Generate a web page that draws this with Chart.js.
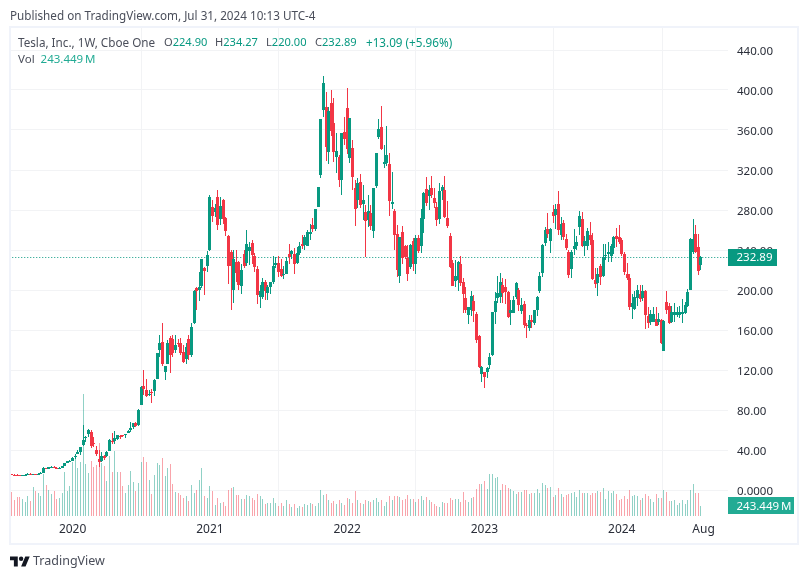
<!DOCTYPE html>
<html>
<head>
<meta charset="utf-8">
<title>TSLA 1W</title>
<script src="https://cdn.jsdelivr.net/npm/chart.js@4/dist/chart.umd.min.js"></script>
<style>
  html, body { margin: 0; padding: 0; background: #fff; }
  body { width: 808px; height: 579px; position: relative; overflow: hidden; font-family: "Noto Sans", sans-serif; color: #4a4e5a; }
  #chart { position: absolute; left: 0; top: 0; }
  #frame { position: absolute; left: 9px; top: 26px; width: 790px; height: 519px; box-sizing: border-box; border: 2px solid #f0f3fa; }
  .txt { position: absolute; white-space: pre; font-size: 11.1px; line-height: 16px; }
  .up { color: #089981; }
  .vol { color: #22ab94; }
  #logo { position: absolute; left: 10px; top: 554px; }
</style>
</head>
<body>
<canvas id="chart" width="808" height="579"></canvas>
<div id="frame"></div>
<div class="txt" style="left:10px;top:7px;font-size:11.7px">Published on TradingView.com, Jul 31, 2024 10:13 UTC-4</div>
<div class="txt" style="left:18px;top:34px;font-size:11.7px">Tesla, Inc., 1W, Cboe One</div>
<div class="txt" style="left:164px;top:34px">O<span class="up">224.90</span></div>
<div class="txt" style="left:215px;top:34px">H<span class="up">234.27</span></div>
<div class="txt" style="left:266px;top:34px">L<span class="up">220.00</span></div>
<div class="txt" style="left:315px;top:34px">C<span class="up">232.89</span></div>
<div class="txt up" style="left:366px;top:34px;font-size:11.7px">+13.09 (+5.96%)</div>
<div class="txt" style="left:18px;top:51px;font-size:11.5px">Vol  <span class="vol">243.449&#8239;M</span></div>
<svg id="logo" width="20" height="16" viewBox="0 0 36 28" fill="#131722"><path d="M14 22H7V11H0V4h14v18zM28 22h-8l7.5-18h8L28 22z"/><circle cx="20" cy="8" r="4"/></svg>
<div class="txt" style="left:33px;top:553px;font-size:12.5px">TradingView</div>

<script>
const opens = [
  16.1,15.4,15.3,14.9,14.4,15.0,15.4,16.4,16.1,16.2,
  15.6,16.6,17.0,21.9,21.2,23.3,23.5,22.4,22.3,22.5,
  24.3,27.5,28.9,29.5,32.9,36.0,37.9,44.9,52.2,56.0,
  57.6,47.4,40.5,31.3,29.3,33.6,33.6,39.3,48.8,49.0,
  51.0,53.6,55.3,55.0,57.2,60.0,62.6,66.7,64.6,85.0,
  104,100,95,98.5,99,111,140,148,118,126,
  152,151,140,147,147,138,131,151,135,167,
  202,200,204,222,224,240,283,278,293,271,
  290,272,254,238,200,228,228,204,236,227,
  239,247,234,221,193,193,208,197,203,208,
  225,227,221,215,216,236,236,236,227,237,
  246,245,244,256,265,261,283,315,380,383,
  338,387,367,333,333,310,358,382,332,342,
  302,290,308,286,278,270,277,259,304,353,
  363,326,327,326,286,279,256,214,258,244,
  232,223,249,226,252,244,271,301,294,302,
  292,283,271,299,300,272,254,227,209,210,
  226,208,192,175,180,189,176,154,116,118,
  118,125,135,178,192,193,205,203,198,177,
  177,193,200,179,186,165,162,170,167,180,
  199,217,247,261,249,278,275,286,255,267,
  251,238,221,241,244,263,271,244,244,255,
  250,210,207,224,214,234,236,234,242,254,
  253,250,236,216,212,183,181,192,196,192,
  199,174,168,168,171,168,170,139,188,184,
  168,175,175,175,176,177,184,200,238,256,243,224.9
];
const highs = [
  16.2,15.8,15.6,15.3,15.1,15.6,16.8,16.7,16.4,16.3,
  16.8,17.8,22.7,22.0,23.4,23.9,24.1,22.9,22.6,24.1,
  27.0,29.0,30.3,33.2,35.9,39.6,43.5,64.6,54.0,61.0,
  60.5,53,43.6,40,37.6,35.0,39.0,51.0,57,58.8,
  55.1,54.9,55.5,56.2,60,68.5,67.0,67.9,81,104,
  120,111,100,101,110.7,137,154.6,167,124.3,150,
  154,155,155,151,152,145,147,155,167,200,
  203,218,231,223,239,295,290,286,300,293,
  291,273,255,240,240,240,229,226,240,260,
  248,250,237,224,205,212,210,205,208,234,
  233,234,231,224,233,246,240,242,243,248,
  255,255,260,266,272,281,303,371,414,398,
  383,400,392,357,335,357,373,402,372,350,
  310,312,316,305,285,295,285,302,337,371,
  384,345,364,337,318,281,265,253,264,245,
  245,246,252,255,255,281,298,313,305,314,
  302,288,307,305,314,289,257,230,230,229,
  234,212,203,183,199,195,178,155,124,118,
  123,137,178,198,214,217,212,211,199,190,
  194,208,202,192,189,167,175,175,180,194,
  218,246,263,277,262,285,286,299,273,270,
  256,240,240,261,254,279,278,254,262,268,
  257,222,222,226,246,246,248,246,254,262,
  265,252,238,227,216,196,199,205,205,205,
  200,183,180,183,183,177,171,170,199,187,
  184,187,183,184,191,188,201,252,271,265,256,234.27
];
const lows = [
  15.1,14.8,14.5,14.1,14.1,14.9,15.2,15.8,14.9,15.1,
  15.4,16.4,16.9,20.6,20.9,22.8,22.0,21.9,21.8,22.0,
  23.9,27.2,27.6,29.3,31.5,35.9,35.2,44.5,48.0,53.0,
  42.0,42.9,33.9,23.4,28,29.8,33.2,39.0,46.4,45.5,
  50,51,53.5,51.6,57,58,61.5,63.1,64.4,85,
  95,93,94,87,94,110.6,133,124,110,126,
  117,133,137,143,135,127,126,130,133,166,
  180,189,202,195,218,239,268,273,260,265,
  266,254,206,180,187,208,200,196,222,224,
  225,226,218,186,182,191,190,190,196,206,
  222,213,213,211,216,226,231,216,226,235,
  241,240,244,250,258,259,283,312,373,329,
  326,354,328,317,303,295,345,336,327,300,
  264,282,282,270,233,263,260,252,302,351,
  340,322,324,274,281,240,213,207,226,231,
  209,221,219,216,237,237,257,284,280,292,
  282,264,266,290,272,262,222,204,203,199,
  204,177,177,166,174,168,147,122,108,102,
  112,121,134,166,187,187,187,186,172,165,
  177,191,179,176,162,152,159,162,165,174,
  197,213,244,252,237,267,261,255,250,250,
  240,212,212,235,240,255,243,234,240,245,
  210,202,194,205,213,230,228,228,236,243,
  246,234,215,210,180,171,180,184,188,189,
  161,162,165,168,164,165,146,139,176,166,
  167,168,173,172,167,176,183,200,236,237,215,220
];
const closes = [
  15.6,15.2,14.6,14.2,15.0,15.2,16.4,16.0,16.2,15.5,
  16.5,17.4,21.9,21.0,23.3,23.5,22.2,22.2,22.4,24.0,
  27.0,28.7,29.5,32.1,34.2,37.6,43.4,49.9,53.3,60.5,
  44.5,47.0,36.4,28.5,34.3,32.0,38.2,50.1,48.3,52.0,
  54.6,53.3,54.7,55.7,59,62,66.6,64,80,103,
  100.9,94,96,97.5,110,136.7,147,126,124,147,
  135,137,145,146,137,128,143,135,163,199,
  199,203,231,219,235,293,274,282,265,284,
  271,259,224,224,231,217,205,220,224,246,
  243,235,223,195,199,208,199,203,208,224,
  227,218,214,216,229,233,239,226,237,244,
  244,253,258,258,261,281,303,371,407,343,
  379,359,338,339,310,357,351,341,372,313,
  281,307,285,290,269,279,264,302,337,361,
  341,328,335,289,288,255,220,253,232,233,
  216,245,226,252,239,272,297,287,300,295,
  287,270,299,303,273,264,223,204,214,228,
  207,196,180,183,194,179,150,123,123,113,
  122,133,178,189,197,208,197,198,173,180,
  190,207,185,185,165,164,170,168,180,193,
  214,245,260,256,261,274,281,260,266,253,
  242,215,238,244,248,274,244,249,259,250,
  211,206,216,213,233,235,238,244,253,251,
  248,236,218,212,183,187,193,200,191,199,
  175,167,176,176,164,171,147,169,180,167,
  178,178,178,178,178,185,198,251,251,238,219,232.89
];
// weekly volume, millions of shares
const volumes = [
  591,389,454,454,413,340,486,365,705,616,
  559,494,1021,753,632,535,599,413,437,559,
  1061,608,729,1304,1466,1175,1304,2957,1272,1053,
  1328,1199,1239,1766,1280,1215,851,1458,1077,1580,
  1069,1069,729,567,753,1102,834,608,810,1312,
  1434,1320,867,535,996,1288,1239,1409,972,1175,
  1272,786,583,559,510,429,478,365,753,559,
  640,875,1158,494,437,729,616,275,437,324,
  340,243,632,680,705,510,518,405,405,502,
  478,429,397,535,478,405,292,316,316,429,
  316,235,316,235,381,292,211,292,203,235,
  219,284,267,316,284,235,316,624,502,535,
  381,316,356,292,381,316,267,437,405,316,
  599,381,316,284,381,356,332,381,429,332,
  381,235,332,478,381,478,478,454,381,405,
  502,405,405,332,405,478,381,454,381,332,
  284,235,211,332,308,308,429,381,405,405,
  332,575,381,332,429,454,648,770,770,842,
  648,1012,1012,915,940,624,770,745,672,648,
  599,543,575,583,624,624,543,551,559,648,
  551,794,761,672,697,454,510,672,527,454,
  518,535,551,575,454,624,551,551,551,502,
  551,551,599,583,672,405,616,551,599,527,
  381,405,478,405,624,478,502,478,381,446,
  527,478,405,332,527,429,446,624,575,356,
  356,381,259,308,381,284,381,624,770,551,
  551,243.449
];
const xTickWeeks = [23, 75, 127, 179, 231, 262];
const xTickLabels = ['2020', '2021', '2022', '2023', '2024', 'Aug'];
const priceTicks = [0, 40, 80, 120, 160, 200, 240, 280, 320, 360, 400, 440];

const UP = '#089981';
const DOWN = '#f23645';
const FONT = '"Noto Sans", sans-serif';
const lastClose = closes[closes.length - 1];
const lastVolume = volumes[volumes.length - 1];
const isUp = closes.map((c, i) => c >= opens[i]);
const weeks = closes.map((c, i) => i);

// keeps thin bars sharp: rounds the scale's pixels to whole device pixels
const snapBars = {
  id: 'snapBars',
  afterDatasetsUpdate(chart) {
    chart.data.datasets.forEach((ds, n) => {
      const meta = chart.getDatasetMeta(n);
      if (ds.type === 'line') {
        meta.data.forEach(pt => { pt.y = Math.floor(pt.y) + 0.5; });
        return;
      }
      meta.data.forEach(bar => {
        bar.x = Math.floor(bar.x) + 0.5;
        bar.y = Math.round(bar.y);
        bar.base = Math.round(bar.base);
        if (bar.y === bar.base) bar.base = bar.y + 1;
      });
    });
  }
};

const tagLabel = (ctx, text, left, right, midY, color) => {
  ctx.fillStyle = color;
  ctx.fillRect(left, Math.round(midY - 8.5), right - left, 17);
  ctx.fillStyle = '#fff';
  ctx.font = '11.5px ' + FONT;
  ctx.textAlign = 'left';
  ctx.textBaseline = 'middle';
  ctx.fillText(text, left + 8.5, midY + 0.5);
};

const lastValueTags = {
  id: 'lastValueTags',
  afterDraw(chart) {
    const { ctx, chartArea, scales } = chart;
    ctx.save();
    tagLabel(ctx, lastClose.toFixed(2), chartArea.right, chartArea.right + 49, scales.y.getPixelForValue(lastClose), UP);
    tagLabel(ctx, lastVolume.toFixed(3) + '\u202fM', chartArea.right, chartArea.right + 66, scales.yv.getPixelForValue(lastVolume), '#22ab94');
    ctx.restore();
  }
};

new Chart(document.getElementById('chart'), {
  type: 'bar',
  data: {
    datasets: [
      {
        label: 'Vol',
        yAxisID: 'yv',
        order: 5,
        data: weeks.map(i => ({ x: i, y: volumes[i] })),
        backgroundColor: weeks.map(i => isUp[i] ? 'rgba(8,153,129,0.45)' : 'rgba(242,54,69,0.45)'),
        barThickness: 1
      },
      {
        type: 'line',
        label: 'Last',
        yAxisID: 'y',
        order: 4,
        data: [{ x: -1, y: lastClose }, { x: 272, y: lastClose }],
        borderColor: UP,
        borderWidth: 1,
        borderDash: [1, 2],
        pointRadius: 0
      },
      {
        label: 'Wick',
        yAxisID: 'y',
        order: 3,
        data: weeks.map(i => ({ x: i, y: [lows[i], highs[i]] })),
        backgroundColor: weeks.map(i => isUp[i] ? UP : DOWN),
        barThickness: 1
      },
      {
        label: 'Body',
        yAxisID: 'y',
        order: 2,
        data: weeks.map(i => ({ x: i, y: [opens[i], closes[i]] })),
        backgroundColor: weeks.map(i => isUp[i] ? UP : DOWN),
        barThickness: 3
      }
    ]
  },
  options: {
    responsive: false,
    animation: false,
    grouped: false,
    borderSkipped: false,
    inflateAmount: 0,
    layout: { padding: { left: 11, top: 28, right: 11, bottom: 35 } },
    plugins: { legend: { display: false }, tooltip: { enabled: false } },
    scales: {
      x: {
        type: 'linear',
        offset: false,
        min: -0.34,
        max: 271.25,
        border: { display: false },
        grid: { color: '#f2f3f5', drawTicks: false },
        afterBuildTicks(scale) { scale.ticks = xTickWeeks.map(v => ({ value: v })); },
        afterFit(scale) { scale.height = 28; },
        ticks: {
          autoSkip: false,
          maxRotation: 0,
          padding: 6,
          color: '#2a2e39',
          font: { family: FONT, size: 12 },
          callback: v => xTickLabels[xTickWeeks.indexOf(v)]
        }
      },
      y: {
        position: 'right',
        min: -26,
        max: 462,
        border: { display: false },
        grid: { color: '#f2f3f5', drawTicks: false },
        afterBuildTicks(scale) { scale.ticks = priceTicks.map(v => ({ value: v })); },
        afterFit(scale) { scale.width = 69; },
        ticks: {
          padding: 9,
          labelOffset: 2,
          color: '#2a2e39',
          font: { family: FONT, size: 11.5 },
          callback: v => v === 0 ? '0.0000' : v.toFixed(2)
        }
      },
      yv: {
        display: false,
        position: 'right',
        min: 0,
        max: 11858
      }
    }
  },
  plugins: [snapBars, lastValueTags]
});
</script>
</body>
</html>
